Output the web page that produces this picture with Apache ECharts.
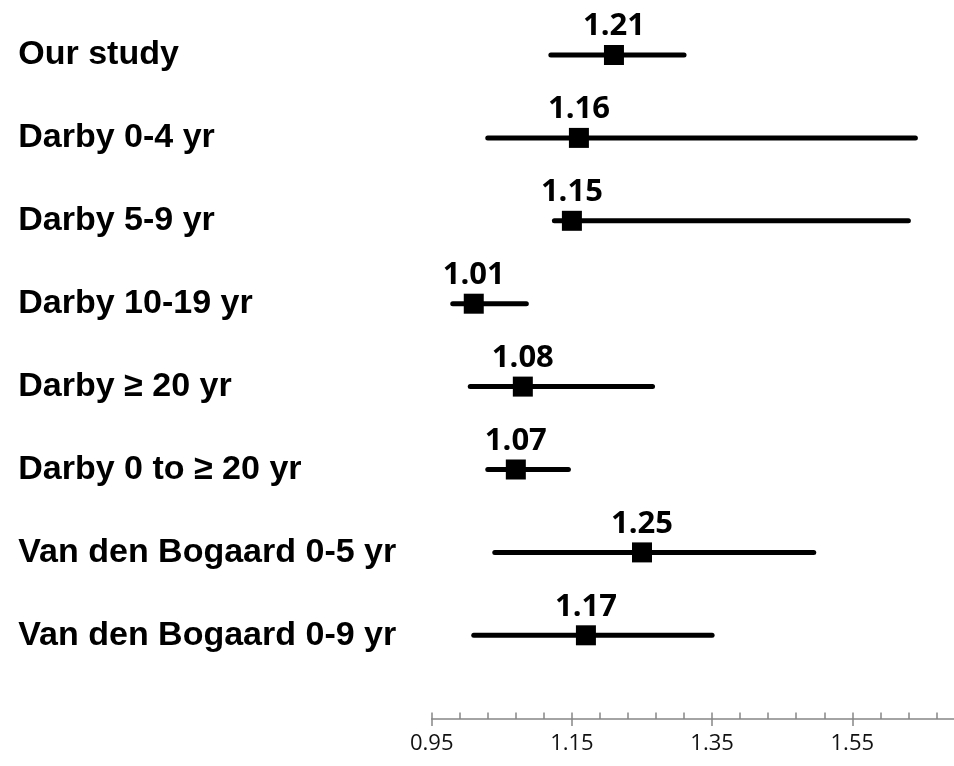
<!DOCTYPE html>
<html>
<head>
<meta charset="utf-8">
<script src="https://cdn.jsdelivr.net/npm/echarts@6/dist/echarts.min.js"></script>
<style>html,body{margin:0;padding:0;background:#fff;}#chart{width:954px;height:766px;}</style>
</head>
<body>
<div id="chart"></div>
<script>
var categories = ['Our study','Darby 0-4 yr','Darby 5-9 yr','Darby 10-19 yr','Darby \u2265 20 yr','Darby 0 to \u2265 20 yr','Van den Bogaard 0-5 yr','Van den Bogaard 0-9 yr'];
var estimates = [1.21, 1.16, 1.15, 1.01, 1.08, 1.07, 1.25, 1.17];
var lowerCI = [1.12, 1.03, 1.125, 0.98, 1.005, 1.03, 1.04, 1.01];
var upperCI = [1.31, 1.64, 1.63, 1.085, 1.265, 1.145, 1.495, 1.35];
var tickValues = [0.95, 1.15, 1.35, 1.55, 1.75];
var tickLabels = ['0.95', '1.15', '1.35', '1.55', '1.75'];

var chart = echarts.init(document.getElementById('chart'));
var axisColor = '#878787';
var ciData = categories.map(function (c, i) { return [lowerCI[i], upperCI[i], i]; });
var ptData = categories.map(function (c, i) { return [estimates[i], i]; });

var baseX = {
  type: 'value',
  min: tickValues[0],
  max: tickValues[tickValues.length - 1],
  interval: 0.2,
  position: 'bottom',
  offset: 42.25,
  splitLine: { show: false }
};

chart.setOption({
  animation: false,
  grid: { left: 431.7, right: -38.5, top: 13.55, bottom: 89.25, containLabel: false, outerBoundsMode: 'none' },
  xAxis: [
    Object.assign({}, baseX, {
      axisLine: { show: true, lineStyle: { color: axisColor, width: 1.5 } },
      axisTick: { show: true, inside: true, length: 6.5, lineStyle: { color: axisColor, width: 1.5 } },
      minorTick: { show: true, splitNumber: 5, length: 6.5, lineStyle: { color: axisColor, width: 1.5 } },
      axisLabel: {
        show: true, margin: 14, color: '#111', fontSize: 22, fontFamily: 'Open Sans',
        formatter: function (v) {
          for (var k = 0; k < tickValues.length; k++) {
            if (Math.abs(v - tickValues[k]) < 1e-6) return tickLabels[k];
          }
          return '';
        }
      }
    }),
    Object.assign({}, baseX, {
      axisLine: { show: false },
      axisTick: { show: true, inside: false, length: 7, lineStyle: { color: axisColor, width: 1.5 } },
      minorTick: { show: false },
      axisLabel: { show: false }
    })
  ],
  yAxis: {
    type: 'category',
    data: categories,
    inverse: true,
    axisLine: { show: false },
    axisTick: { show: false },
    splitLine: { show: false },
    axisLabel: {
      align: 'left', margin: 413.4, color: '#000', fontSize: 34,
      fontWeight: 'bold', fontFamily: 'Liberation Sans', padding: [0, 0, 12, 0]
    }
  },
  series: [
    {
      type: 'custom',
      xAxisIndex: 0,
      data: ciData,
      encode: { x: [0, 1], y: 2 },
      renderItem: function (params, api) {
        var p1 = api.coord([api.value(0), api.value(2)]);
        var p2 = api.coord([api.value(1), api.value(2)]);
        return {
          type: 'line',
          shape: { x1: p1[0], y1: p1[1], x2: p2[0], y2: p2[1] },
          style: { stroke: '#000', lineWidth: 5, lineCap: 'round' }
        };
      },
      z: 2
    },
    {
      type: 'scatter',
      xAxisIndex: 0,
      data: ptData,
      symbol: 'rect',
      symbolSize: 20,
      itemStyle: { color: '#000', opacity: 1 },
      label: {
        show: true, position: 'top', distance: 3, color: '#000',
        fontSize: 31, fontWeight: 'bold', fontFamily: 'Open Sans',
        formatter: function (p) { return estimates[p.dataIndex].toFixed(2); }
      },
      z: 3
    }
  ]
});
</script>
</body>
</html>
